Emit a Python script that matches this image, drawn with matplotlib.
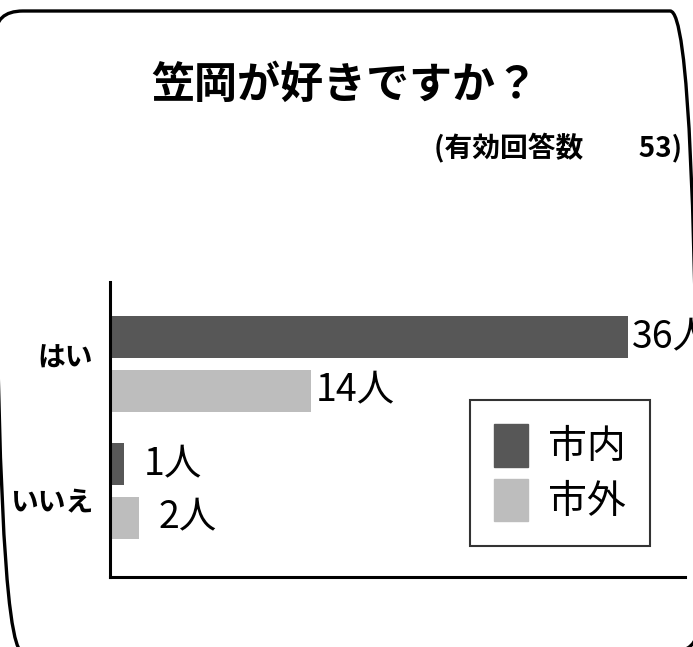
import matplotlib
matplotlib.use('Agg')
import matplotlib.pyplot as plt
from matplotlib.patches import FancyBboxPatch, Patch
import numpy as np

plt.rcParams['font.family'] = ['Noto Sans CJK JP', 'DejaVu Sans']

# データ
categories = ['はい', 'いいえ']
series_names = ['市内', '市外']
shinai = [36, 1]
shigai = [14, 2]
title = '笠岡が好きですか？'
subtitle = '(有効回答数　　53)'

color_dark = '#575757'
color_light = '#bdbdbd'

fig = plt.figure(figsize=(6.93, 6.47), dpi=100)

# 角丸の外枠
border = FancyBboxPatch((-0.007, -0.008), 1.014, 0.991,
                        boxstyle='round,pad=0,rounding_size=0.04',
                        transform=fig.transFigure, fill=False,
                        edgecolor='black', linewidth=2.4, clip_on=False)
fig.patches.append(border)

fig.text(0.497, 0.869, title, ha='center', va='center', fontsize=31, fontweight='bold')
fig.text(0.985, 0.771, subtitle, ha='right', va='center', fontsize=20, fontweight='bold')

ax = fig.add_axes([110 / 693, 70 / 647, 575 / 693, 295 / 647])

y = np.arange(len(categories))
off = 0.21
h = 0.33
ax.barh(y - off, shinai, height=h, color=color_dark, label=series_names[0])
ax.barh(y + off, shigai, height=h, color=color_light, label=series_names[1])

for vals, dy in [(shinai, -off), (shigai, off)]:
    for i, v in enumerate(vals):
        pad = 14 if v < 5 else 3
        ax.annotate(f'{v}人', xy=(v, i + dy), xytext=(pad, 0), textcoords='offset points',
                    ha='left', va='center', fontsize=27, clip_on=False)

ax.set_xlim(0, 40)
ax.set_ylim(1.677, -0.646)
ax.set_yticks([-0.07, 1.07])
ax.set_yticklabels(categories, fontsize=20, fontweight='bold')
ax.tick_params(axis='y', length=0, pad=12)
ax.set_xticks([])
for s in ['top', 'right']:
    ax.spines[s].set_visible(False)
for s in ['left', 'bottom']:
    ax.spines[s].set_linewidth(2.2)

handles = [Patch(color=color_dark), Patch(color=color_light)]
leg = ax.legend(handles, series_names, loc='upper left',
                bbox_to_anchor=(470 / 693, 1 - 400 / 647), bbox_transform=fig.transFigure,
                fontsize=28, frameon=True, fancybox=False, edgecolor='black',
                handlelength=0.88, handleheight=1.3, handletextpad=0.5,
                labelspacing=0.3, borderpad=0.62, borderaxespad=0)
leg.get_frame().set_linewidth(1.5)

fig.savefig('out.png', dpi=100)
